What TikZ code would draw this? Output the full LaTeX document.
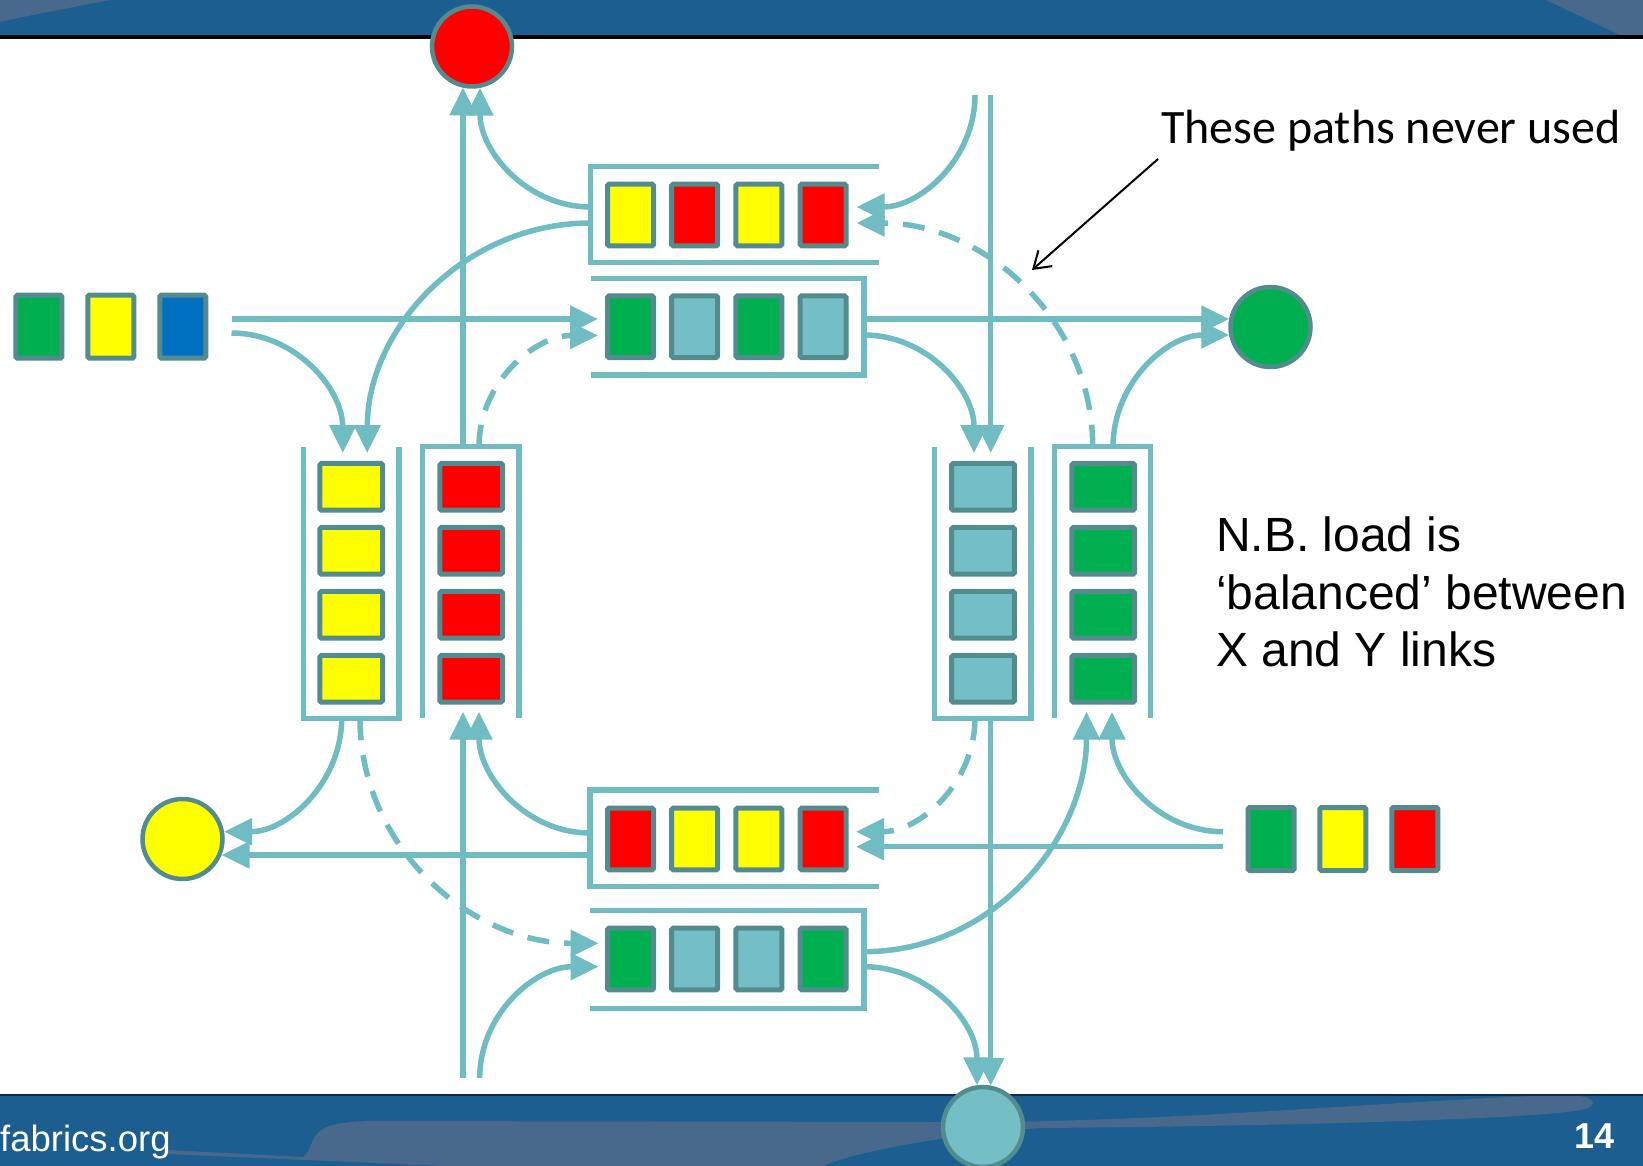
\documentclass[tikz,border=0pt]{standalone}
\usepackage{fontspec}
\setmainfont{Liberation Sans}
\newfontfamily\calibrifont{Carlito}
\usetikzlibrary{arrows.meta,calc}

\definecolor{bandblue}{RGB}{27,94,143}
\definecolor{bandlight}{RGB}{72,104,140}
\definecolor{bandline}{RGB}{18,42,70}
\definecolor{linkteal}{RGB}{112,188,195}
\definecolor{pktedge}{RGB}{83,140,143}
\definecolor{pktteal}{RGB}{116,190,198}
\definecolor{pktgreen}{RGB}{0,176,80}
\definecolor{pktblue}{RGB}{0,112,192}
\definecolor{pktred}{RGB}{255,0,0}
\definecolor{pktyellow}{RGB}{255,255,0}

\begin{document}
\begin{tikzpicture}[x=1pt,y=-1pt,
  pktbase/.style={draw=pktedge, line width=5pt, rounded corners=1.5pt, inner sep=0pt},
  hpkt/.style={pktbase, minimum width=46pt, minimum height=61.6pt},
  vpkt/.style={pktbase, minimum width=62.7pt, minimum height=46.7pt},
  inpkt/.style={pktbase, minimum width=46pt, minimum height=63pt},
  sink/.style={circle, draw=pktedge, line width=4.5pt, minimum size=80pt, inner sep=0pt},
  qframe/.style={draw=linkteal, line width=5.5pt},
  link/.style={draw=linkteal, line width=5.5pt, -{Triangle[length=28pt,width=26pt]}},
  unused/.style={link, dash pattern=on 22pt off 15pt},
]
\useasboundingbox (0,0) rectangle (1643,1166);
\clip (0,0) rectangle (1643,1166);

% ---------- title band ----------
\fill[bandblue] (0,0) rectangle (1643,35);
\fill[bandlight] (0,0) -- (110,0) .. controls (60,10) and (30,15) .. (0,22) -- cycle;
\fill[bandlight] (1546,0) -- (1620,35) -- (1643,35) -- (1643,0) -- cycle;
\fill[black] (0,35) rectangle (1643,39);

% ---------- footer band ----------
\fill[bandblue] (0,1095) rectangle (1643,1166);
\fill[bandlight] (167,1150) -- (303,1157)
  .. controls (312,1150) and (310,1140) .. (318,1133)
  .. controls (326,1124) and (345,1121) .. (380,1121)
  -- (940,1122)
  .. controls (1150,1124) and (1400,1100) .. (1560,1095)
  .. controls (1590,1094) and (1600,1102) .. (1588,1108)
  .. controls (1570,1118) and (1300,1126) .. (1040,1128)
  .. controls (950,1135) and (860,1150) .. (823,1166)
  -- (445,1166) -- (167,1154) -- cycle;
\fill[bandline] (0,1094) rectangle (1643,1096);

% ---------- ports ----------
\coordinate (c2n)   at (463,446.7);
\coordinate (c2n2)  at (479,446.7);
\coordinate (redS)  at (463,87.5);
\coordinate (redSE) at (480,87.7);
\coordinate (q1w1)  at (590.5,207);
\coordinate (q1w2)  at (590.5,223);
\coordinate (c1n1)  at (342.7,453);
\coordinate (c1n2)  at (367.3,453);
\coordinate (inL1)  at (231.5,319);
\coordinate (inL2)  at (231.5,333);
\coordinate (q2w1)  at (598,319);
\coordinate (q2w2)  at (598,335.5);
\coordinate (q2e1)  at (864,319);
\coordinate (q2e2)  at (864,335);
\coordinate (grnW1) at (1229.3,319);
\coordinate (grnW2) at (1229.3,335);
\coordinate (c3n1)  at (974,453);
\coordinate (c3n2)  at (990.7,453);
\coordinate (topR1) at (975,95);
\coordinate (topR2) at (990.7,95);
\coordinate (q1e1)  at (856.5,207);
\coordinate (q1e2)  at (856.5,223);
\coordinate (c4n1)  at (1092.7,446.7);
\coordinate (c4n2)  at (1113,446.7);
\coordinate (c3s1)  at (975,718.3);
\coordinate (c3s2)  at (990.7,718.3);
\coordinate (tealN1) at (977,1085.4);
\coordinate (tealN2) at (990.7,1085.8);
\coordinate (q3e1)  at (856,831.7);
\coordinate (q3e2)  at (856,846.7);
\coordinate (inR1)  at (1223,831.7);
\coordinate (inR2)  at (1223,846.7);
\coordinate (c4s1)  at (1086.5,711.7);
\coordinate (c4s2)  at (1112,711.7);
\coordinate (q4e1)  at (864,951.7);
\coordinate (q4e2)  at (864,966.7);
\coordinate (c1s1)  at (341.7,718.3);
\coordinate (c1s2)  at (360,718.3);
\coordinate (yelE1) at (224,831.7);
\coordinate (yelE2) at (221.5,855);
\coordinate (q3w1)  at (590,833);
\coordinate (q3w2)  at (590,855);
\coordinate (q4w1)  at (598.6,943.3);
\coordinate (q4w2)  at (598.6,966.7);
\coordinate (c2s1)  at (463,711.7);
\coordinate (c2s2)  at (479,711.7);
\coordinate (botL1) at (463,1078);
\coordinate (botL2) at (479.7,1078);
\coordinate (notefrom) at (1158,159);
\coordinate (noteto)   at (1032,270);

% ---------- links ----------
\draw[link] (c2n) -- (redS);
\draw[link] (q1w1) to[out=180,in=-90] (redSE);
\draw[link] (q1w2) to[out=180,in=90] (c1n2);
\draw[link] (inL1) -- (q2w1);
\draw[link] (inL2) to[out=0,in=90] (c1n1);
\draw[unused] (c2n2) to[out=90,in=180] (q2w2);
\draw[link] (q2e1) -- (grnW1);
\draw[link] (q2e2) to[out=0,in=90] (c3n1);
\draw[link] (topR1) to[out=-90,in=0] (q1e1);
\draw[link] (topR2) -- (c3n2);
\draw[unused] (c4n1) to[out=90,in=0] (q1e2);
\draw[link] (c4n2) to[out=90,in=180] (grnW2);
\draw[link] (c3s2) -- (tealN2);
\draw[unused] (c3s1) to[out=-90,in=0] (q3e1);
\draw[link] (inR2) -- (q3e2);
\draw[link] (inR1) to[out=180,in=-90] (c4s2);
\draw[link] (q4e1) to[out=0,in=-90] (c4s1);
\draw[link] (q4e2) to[out=0,in=90] (tealN1);
\draw[link] (c1s1) to[out=-90,in=0] (yelE1);
\draw[link] (q3w2) -- (yelE2);
\draw[unused] (c1s2) to[out=-90,in=180] (q4w1);
\draw[link] (q3w1) to[out=180,in=-90] (c2s2);
\draw[link] (botL1) -- (c2s1);
\draw[link] (botL2) to[out=90,in=180] (q4w2);

% ---------- queue frames ----------
\draw[qframe] (879,166.7) -- (590.5,166.7) -- (590.5,262.7) -- (879,262.7);
\draw[qframe] (590.5,278.3) -- (864,278.3) -- (864,375) -- (590.5,375);
\draw[qframe] (879,790) -- (590,790) -- (590,886.7) -- (879,886.7);
\draw[qframe] (590,910.7) -- (864,910.7) -- (864,1008.3) -- (590,1008.3);
\draw[qframe] (303.3,446.7) -- (303.3,718.3) -- (399,718.3) -- (399,446.7);
\draw[qframe] (422.7,718.3) -- (422.7,446.7) -- (519,446.7) -- (519,718.3);
\draw[qframe] (934.3,446.7) -- (934.3,718.3) -- (1031,718.3) -- (1031,446.7);
\draw[qframe] (1054.3,718.3) -- (1054.3,446.7) -- (1150.7,446.7) -- (1150.7,718.3);

% ---------- queued packets ----------
\foreach \c [count=\i] in {pktyellow,pktred,pktyellow,pktred}
  \node[hpkt, fill=\c] (qa\i) at ({566.3+64.2*\i},215) {};
\foreach \c [count=\i] in {pktgreen,pktteal,pktgreen,pktteal}
  \node[hpkt, fill=\c] (qb\i) at ({566.3+64.2*\i},326.7) {};
\foreach \c [count=\i] in {pktred,pktyellow,pktyellow,pktred}
  \node[hpkt, fill=\c] (qc\i) at ({566.3+64.2*\i},839) {};
\foreach \c [count=\i] in {pktgreen,pktteal,pktteal,pktgreen}
  \node[hpkt, fill=\c] (qd\i) at ({566.3+64.2*\i},959) {};
\foreach \i in {1,...,4} {
  \node[vpkt, fill=pktyellow] (ca\i) at (351.2,{422.8+64*\i}) {};
  \node[vpkt, fill=pktred]    (cb\i) at (471.2,{422.8+64*\i}) {};
  \node[vpkt, fill=pktteal]   (cc\i) at (983,{422.8+64*\i}) {};
  \node[vpkt, fill=pktgreen]  (cd\i) at (1103.3,{422.8+64*\i}) {};
}

% ---------- sources ----------
\foreach \c [count=\i] in {pktgreen,pktyellow,pktblue}
  \node[inpkt, fill=\c] (srcl\i) at ({-33.1+71.95*\i},326.7) {};
\foreach \c [count=\i] in {pktgreen,pktyellow,pktred}
  \node[inpkt, fill=\c] (srcr\i) at ({1199.2+71.85*\i},839) {};

% ---------- sinks ----------
\node[sink, fill=pktred]    (sinkred)  at (472,46.5) {};
\node[sink, fill=pktyellow] (sinkyel)  at (182.5,839) {};
\node[sink, fill=pktgreen]  (sinkgrn)  at (1270.5,327) {};
\node[sink, fill=pktteal]   (sinkteal) at (983,1127) {};

% ---------- notes ----------
\node[anchor=base west, inner sep=0pt, font=\calibrifont\fontsize{48}{57}\selectfont]
  (notepaths) at (1161,143.3) {These paths never used};
\draw[line width=2pt, -{Straight Barb[length=16pt,width=21pt]}] (notefrom) -- (noteto);
\node[anchor=base west, inner sep=0pt, align=left, font=\fontsize{48}{57.5}\selectfont]
  (notebal) at (1216,666.7) {N.B. load is\\‘balanced’ between\\X and Y links};

% ---------- footer text ----------
\node[anchor=base west, inner sep=0pt, text=white, font=\fontsize{36.5}{40}\selectfont]
  (site) at (0,1151) {fabrics.org};
\node[anchor=base east, inner sep=0pt, text=white, font=\bfseries\fontsize{36}{40}\selectfont]
  (pageno) at (1615,1148) {14};
\end{tikzpicture}
\end{document}
